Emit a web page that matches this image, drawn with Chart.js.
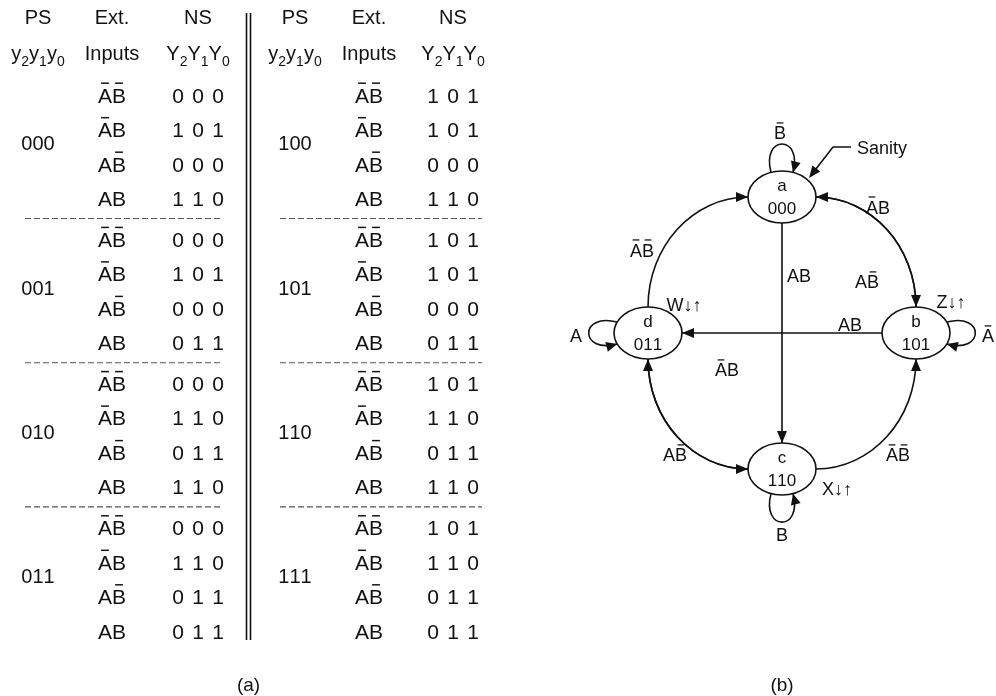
<!DOCTYPE html>
<html><head><meta charset="utf-8">
<script src="https://cdn.jsdelivr.net/npm/chart.js@4/dist/chart.umd.min.js"></script>
<style>html,body{margin:0;padding:0;background:#fff;overflow:hidden}</style>
</head><body>
<canvas id="c" width="996" height="696"></canvas>
<script>
// ---------------- data ----------------
const PS_CODES   = ['000','001','010','011','100','101','110','111'];
const EXT_INPUTS = ["A'B'","A'B","AB'","AB"];
const NS_000 = ['000','101','000','110'];
const NS_001 = ['000','101','000','011'];
const NS_010 = ['000','110','011','110'];
const NS_011 = ['000','110','011','011'];
const NS_100 = ['101','101','000','110'];
const NS_101 = ['101','101','000','011'];
const NS_110 = ['101','110','011','110'];
const NS_111 = ['101','110','011','011'];
const NEXT_STATES = [NS_000,NS_001,NS_010,NS_011,NS_100,NS_101,NS_110,NS_111];
const HEAD_TOP = ['PS','Ext.','NS'];
const HEAD_SUB = ['y_2y_1y_0','Inputs','Y_2Y_1Y_0'];

const STATE_NAMES = ['a','b','c','d'];
const STATE_CODES = ['000','101','110','011'];
const STATE_GX = [0, 1, 0, -1];
const STATE_GY = [1, 0, -1, 0];
const STATE_LOOP = ["B'","A'","B","A"];
const STATE_OUT  = ['','Z↓↑','X↓↑','W↓↑'];
const EDGE_FROM = ['d','a','c','c','a','b','b','d'];
const EDGE_TO   = ['a','b','b','d','c','a','d','c'];
const EDGE_COND = ["A'B'","A'B","A'B'","AB'","AB","AB'","AB","A'B"];
const CAPTIONS = ['(a)','(b)'];

// ---------------- layout ----------------
const COLX = [0.38,1.12,1.98,2.95,3.69,4.53];
const GROUP_STEP = 4.18;
const EDGE_LABEL_AT = [[-1.045,0.610],[0.716,0.926],[0.866,-0.897],[-0.799,-0.897],[0.127,0.426],[0.634,0.375],[0.507,0.059],[-0.410,-0.272]];
const OUT_AT = [[0,0],[0.261,0.228],[0.41,-0.147],[0.269,0.206]];
const FAM = '"Liberation Sans", Arial, Helvetica, sans-serif';
const INK = '#111';

const tableItems = [];
for (let h = 0; h < 2; h++) {
  for (let c = 0; c < 3; c++) {
    tableItems.push({x: COLX[h*3+c], y: -2.26, t: HEAD_TOP[c], k: 'hdr'});
    tableItems.push({x: COLX[h*3+c], y: -1.217, t: HEAD_SUB[c], k: 'hdr'});
  }
}
PS_CODES.forEach((code, s) => {
  const h = s >> 2, g = s & 3;
  tableItems.push({x: COLX[h*3], y: g*GROUP_STEP + 1.4, t: code, k: 'ps'});
  for (let r = 0; r < 4; r++) {
    tableItems.push({x: COLX[h*3+1], y: g*GROUP_STEP + r, t: EXT_INPUTS[r], k: 'ext'});
    tableItems.push({x: COLX[h*3+2], y: g*GROUP_STEP + r, t: NEXT_STATES[s][r], k: 'ns'});
  }
});
tableItems.push({x: 2.485, y: 17.07, t: CAPTIONS[0], k: 'cap'});

const datasets = [];
datasets.push({label:'table', rich:true, data: tableItems, xAxisID:'xT', yAxisID:'yT', pointRadius:0});
for (let h = 0; h < 2; h++) for (let g = 0; g < 3; g++) {
  const yv = g*GROUP_STEP + 3.58;
  const x0 = h ? 2.80 : 0.25, x1 = h ? 4.82 : 2.23;
  datasets.push({data:[{x:x0,y:yv},{x:x1,y:yv}], xAxisID:'xT', yAxisID:'yT', showLine:true, pointRadius:0,
    borderColor:'#555', borderWidth:1.2, borderDash:[6,3]});
}
[2.465, 2.505].forEach(xv => datasets.push({data:[{x:xv,y:-2.377},{x:xv,y:15.8}], xAxisID:'xT', yAxisID:'yT',
  showLine:true, pointRadius:0, borderColor:INK, borderWidth:1.6}));
datasets.push({label:'nodes', data: STATE_GX.map((x,i)=>({x, y: STATE_GY[i]})), xAxisID:'xD', yAxisID:'yD', pointRadius:0});
const diagItems = [];
EDGE_COND.forEach((c,i)=>diagItems.push({x:EDGE_LABEL_AT[i][0], y:EDGE_LABEL_AT[i][1], t:c, k:'d'}));
STATE_OUT.forEach((o,i)=>{ if(o) diagItems.push({x:STATE_GX[i]+OUT_AT[i][0], y:STATE_GY[i]+OUT_AT[i][1], t:o, k:'d'}); });
diagItems.push({x:0, y:-2.58, t:CAPTIONS[1], k:'cap'});
datasets.push({label:'dlabels', rich:true, data: diagItems, xAxisID:'xD', yAxisID:'yD', pointRadius:0});

const SIZES = {hdr:20, ps:20, ext:21, ns:21, d:18, cap:19, node:17};

function drawRich(ctx, text, x, y, size, align, spacing) {
  const sub = Math.round(size*0.68);
  const toks = [];
  for (let i = 0; i < text.length; i++) {
    const ch = text[i];
    if (ch === "'") { if (toks.length) toks[toks.length-1].bar = true; continue; }
    if (ch === '_') { i++; toks.push({c:text[i], sub:true}); continue; }
    toks.push({c:ch, sub:false});
  }
  let total = 0;
  toks.forEach(t => { ctx.font = (t.sub?sub:size)+'px '+FAM; t.cw = ctx.measureText(t.c).width; t.w = spacing || t.cw; total += t.w; });
  let cx = align==='left' ? x : (align==='right' ? x-total : x-total/2);
  const cap = size*0.716, base = y + cap/2;
  ctx.fillStyle = INK; ctx.textAlign = 'center'; ctx.textBaseline = 'alphabetic';
  toks.forEach(t => {
    ctx.font = (t.sub?sub:size)+'px '+FAM;
    const mx = cx + t.w/2;
    ctx.fillText(t.c, mx, base + (t.sub ? size*0.28 : 0));
    if (t.bar) ctx.fillRect(mx - t.cw*0.28, base - cap - size*0.24, t.cw*0.56, Math.max(1.2, size*0.07));
    cx += t.w;
  });
}

function arrowHead(ctx, tip, from, len=12, half=5) {
  let dx = tip.x - from.x, dy = tip.y - from.y; const L = Math.hypot(dx,dy) || 1; dx/=L; dy/=L;
  ctx.beginPath();
  ctx.moveTo(tip.x, tip.y);
  ctx.lineTo(tip.x - dx*len - dy*half, tip.y - dy*len + dx*half);
  ctx.lineTo(tip.x - dx*len + dy*half, tip.y - dy*len - dx*half);
  ctx.closePath(); ctx.fill();
}

const RX = 34, RY = 26;
const plugin = {
  id: 'drawer',
  afterDatasetsDraw(chart) {
    const ctx = chart.ctx;
    ctx.save();
    chart.data.datasets.forEach((ds, i) => {
      if (!ds.rich) return;
      const meta = chart.getDatasetMeta(i);
      meta.data.forEach((pt, j) => {
        const d = ds.data[j];
        drawRich(ctx, d.t, pt.x, pt.y, SIZES[d.k], 'center', d.k === 'ns' ? 20 : 0);
      });
    });
    const ni = chart.data.datasets.findIndex(d => d.label === 'nodes');
    const nm = chart.getDatasetMeta(ni);
    const P = nm.data.map(p => ({x: p.x, y: p.y}));
    const idx = n => STATE_NAMES.indexOf(n);
    ctx.strokeStyle = INK; ctx.fillStyle = INK; ctx.lineWidth = 1.6;
    P.forEach((p, i) => {
      ctx.beginPath(); ctx.ellipse(p.x, p.y, RX, RY, 0, 0, Math.PI*2); ctx.stroke();
      drawRich(ctx, STATE_NAMES[i], p.x, p.y - 12, SIZES.node, 'center');
      drawRich(ctx, STATE_CODES[i], p.x, p.y + 11, SIZES.node, 'center');
    });
    ctx.fillStyle = INK;
    const ep = (p, deg) => ({x: p.x + RX*Math.cos(deg*Math.PI/180), y: p.y + RY*Math.sin(deg*Math.PI/180)});
    EDGE_FROM.forEach((fn, e) => {
      const f = idx(fn), t = idx(EDGE_TO[e]);
      const F = P[f], T = P[t];
      const fSide = STATE_GY[f] === 0, tSide = STATE_GY[t] === 0;
      ctx.beginPath();
      if (fSide !== tSide) {
        const si = fSide ? f : t, ti = fSide ? t : f;
        const S = P[si], Tn = P[ti];
        const sp = {x: S.x, y: S.y + Math.sign(Tn.y - S.y)*RY};
        const tp = {x: Tn.x + Math.sign(S.x - Tn.x)*RX, y: Tn.y};
        const C = {x: sp.x, y: tp.y}, k = 0.5523;
        const sc = {x: sp.x + k*(C.x-sp.x), y: sp.y + k*(C.y-sp.y)};
        const tc = {x: tp.x + k*(C.x-tp.x), y: tp.y + k*(C.y-tp.y)};
        let a0, a1, a2, a3;
        if (fSide) { a0=sp; a1=sc; a2=tc; a3=tp; } else { a0=tp; a1=tc; a2=sc; a3=sp; }
        ctx.moveTo(a0.x, a0.y); ctx.bezierCurveTo(a1.x,a1.y,a2.x,a2.y,a3.x,a3.y); ctx.stroke();
        arrowHead(ctx, a3, a2);
      } else if (STATE_GX[f] === STATE_GX[t]) {
        const s = Math.sign(T.y - F.y);
        const a0 = {x: F.x, y: F.y + s*RY}, a1 = {x: T.x, y: T.y - s*RY};
        ctx.moveTo(a0.x,a0.y); ctx.lineTo(a1.x,a1.y); ctx.stroke(); arrowHead(ctx, a1, a0);
      } else if (STATE_GY[f] === STATE_GY[t]) {
        const s = Math.sign(T.x - F.x);
        const a0 = {x: F.x + s*RX, y: F.y}, a1 = {x: T.x - s*RX, y: T.y};
        ctx.moveTo(a0.x,a0.y); ctx.lineTo(a1.x,a1.y); ctx.stroke(); arrowHead(ctx, a1, a0);
      } else {
        let a0, a1, bow;
        if (fn === 'b') { a0 = ep(F, -137); a1 = ep(T, 62); bow = 6; }
        else { a0 = ep(F, 42); a1 = ep(T, -119); bow = 10; }
        const mx = (a0.x+a1.x)/2, my = (a0.y+a1.y)/2;
        let dx = a1.x-a0.x, dy = a1.y-a0.y; const L = Math.hypot(dx,dy);
        let px = dy/L, py = -dx/L;
        if (px < 0) { px = -px; py = -py; }
        const c = {x: mx + px*bow*2, y: my + py*bow*2};
        ctx.moveTo(a0.x,a0.y); ctx.quadraticCurveTo(c.x,c.y,a1.x,a1.y); ctx.stroke();
        arrowHead(ctx, a1, c);
      }
    });
    const U = [[0,-1],[1,0],[0,1],[-1,0]], V = [[1,0],[0,1],[1,0],[0,1]];
    const LOOP_LBL = [[-2,-64],[72,3],[0,66],[-72,3]];
    P.forEach((p, i) => {
      const u = U[i], v = V[i];
      const lat = 11;
      const rad = u[0] ? RX*Math.sqrt(1-(lat/RY)**2) : RY*Math.sqrt(1-(lat/RX)**2);
      const p0 = {x: p.x + u[0]*rad - v[0]*lat, y: p.y + u[1]*rad - v[1]*lat};
      const p3 = {x: p.x + u[0]*rad + v[0]*lat, y: p.y + u[1]*rad + v[1]*lat};
      const out = rad + 38;
      const c1 = {x: p.x + u[0]*out - v[0]*21, y: p.y + u[1]*out - v[1]*21};
      const c2 = {x: p.x + u[0]*out + v[0]*21, y: p.y + u[1]*out + v[1]*21};
      ctx.beginPath(); ctx.moveTo(p0.x,p0.y); ctx.bezierCurveTo(c1.x,c1.y,c2.x,c2.y,p3.x,p3.y); ctx.stroke();
      arrowHead(ctx, p3, c2, 11, 5);
      drawRich(ctx, STATE_LOOP[i], p.x + LOOP_LBL[i][0], p.y + LOOP_LBL[i][1], SIZES.d, 'center');
    });
    const A = P[0];
    ctx.beginPath(); ctx.moveTo(A.x+69, A.y-50); ctx.lineTo(A.x+51, A.y-50); ctx.lineTo(A.x+30, A.y-23); ctx.stroke();
    arrowHead(ctx, {x:A.x+27, y:A.y-19}, {x:A.x+51, y:A.y-50}, 12, 5);
    drawRich(ctx, 'Sanity', A.x+75, A.y-49, SIZES.d, 'left');
    ctx.restore();
  }
};

new Chart(document.getElementById('c').getContext('2d'), {
  type: 'scatter',
  data: {datasets},
  options: {
    responsive: false, animation: false, events: [], devicePixelRatio: 1,
    layout: {padding: 0},
    plugins: {legend: {display:false}, tooltip: {enabled:false}, title: {display:false}},
    scales: {
      xT: {type:'linear', display:false, min:0, max:9.96, position:'bottom'},
      yT: {type:'linear', display:false, min:-2.754, max:17.42, reverse:true, position:'left'},
      xD: {type:'linear', display:false, min:-5.836, max:1.597, position:'bottom'},
      yD: {type:'linear', display:false, min:-2.669, max:2.449, position:'left'}
    }
  },
  plugins: [plugin]
});
</script>
</body></html>
